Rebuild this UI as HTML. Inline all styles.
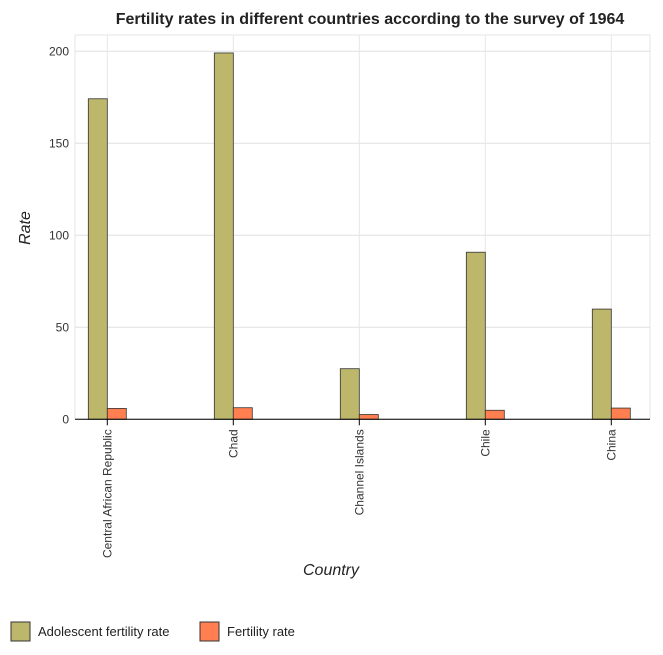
<!DOCTYPE html>
<html><head><meta charset="utf-8"><style>
body{margin:0;background:#fff;font-family:"Liberation Sans",sans-serif;}
</style></head><body>
<svg width="663" height="650" xmlns="http://www.w3.org/2000/svg">
<text x="370" y="24" text-anchor="middle" font-size="16" font-weight="bold" fill="#222">Fertility rates in different countries according to the survey of 1964</text>
<g id="grid"></g>
<g id="bars"></g>
<g id="axes"></g>
<text x="331" y="575" text-anchor="middle" font-size="16" font-style="italic" fill="#222">Country</text>
<text transform="translate(30,228) rotate(-90)" text-anchor="middle" font-size="16" font-style="italic" fill="#222">Rate</text>
<g>
<rect x="11" y="622" width="19" height="19" fill="#bdb76b" stroke="#333"/>
<text x="38" y="636" font-size="13" fill="#222">Adolescent fertility rate</text>
<rect x="200" y="622" width="19" height="19" fill="#ff7f50" stroke="#333"/>
<text x="227" y="636" font-size="13" fill="#222">Fertility rate</text>
</g>
</svg>
<script>
const categories=["Central African Republic","Chad","Channel Islands","Chile","China"];
const adolescent=[174.2,199.1,27.5,90.8,59.9];
const fertility=[5.9,6.3,2.6,4.9,6.1];
const yTicks=[0,50,100,150,200];
const NS="http://www.w3.org/2000/svg";
const x0=75,x1=650,yTop=35,y0=419.3;
function yS(v){return y0-v*(92/50);}
function xC(i){return 107.3+i*126;}
function mk(t,a,p){const e=document.createElementNS(NS,t);for(const k in a)e.setAttribute(k,a[k]);p.appendChild(e);return e;}
const grid=document.getElementById('grid'),bars=document.getElementById('bars'),axes=document.getElementById('axes');
mk('rect',{x:x0,y:yTop,width:x1-x0,height:y0-yTop,fill:'none',stroke:'#e6e6e6'},grid);
yTicks.forEach(v=>{
 const l=mk('line',{x1:x0,x2:x1,y1:yS(v),y2:yS(v),stroke:'#e0e0e0'},grid);
 
 
 const t=mk('text',{x:x0-6,y:yS(v)+4,'text-anchor':'end','font-size':12,fill:'#333'},axes);
 t.textContent=v;
 
 
});
categories.forEach((c,i)=>{
 const cx=xC(i);
 mk('line',{x1:cx,x2:cx,y1:yTop,y2:y0,stroke:'#e6e6e6'},grid);
 const a=mk('rect',{x:cx-19,y:yS(adolescent[i]),width:19,height:y0-yS(adolescent[i]),fill:'#bdb76b',stroke:'#333','stroke-width':0.8},bars);
 
 
 const f=mk('rect',{x:cx,y:yS(fertility[i]),width:19,height:y0-yS(fertility[i]),fill:'#ff7f50',stroke:'#333','stroke-width':0.8},bars);
 
 
 mk('line',{x1:cx,x2:cx,y1:y0,y2:y0+6,stroke:'#000'},axes);
 const t=mk('text',{transform:`translate(${cx+4},${y0+10}) rotate(-90)`,'text-anchor':'end','font-size':12,fill:'#333'},axes);
 t.textContent=c;
 
 
});
mk('line',{x1:x0,x2:x1,y1:y0,y2:y0,stroke:'#000'},axes);
</script>
</body></html>
